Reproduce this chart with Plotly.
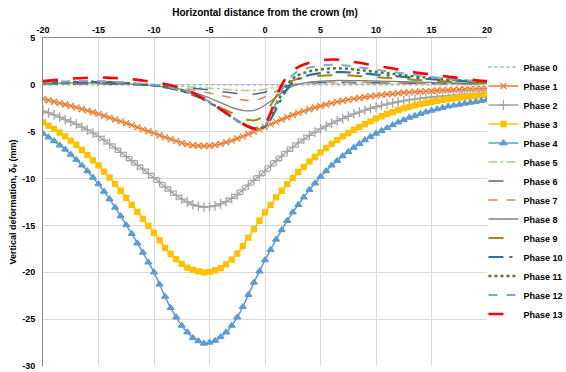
import numpy as np
import plotly.graph_objects as go

# x positions (m) for phases 1-4 (every 0.5 m)
x1 = list(np.arange(-20, 20.5, 0.5))
# x positions (m) for phases 0, 5-13
x2 = [-20, -19, -18, -17, -16, -15, -14, -13, -12, -11, -10, -9, -8, -7, -6, -5, -4, -3,
      -2.5, -2, -1.5, -1, -0.5, 0, 0.5, 1, 1.5, 2, 2.5,
      3, 4, 5, 6, 7, 8, 9, 10, 11, 12, 13, 14, 15, 16, 17, 18, 19, 20]

phase1 = [-1.5, -1.65, -1.8, -1.95, -2.1, -2.25, -2.4, -2.57, -2.75, -2.92, -3.1, -3.3, -3.5, -3.7, -3.9,
          -4.1, -4.3, -4.52, -4.75, -4.95, -5.15, -5.38, -5.6, -5.8, -6.0, -6.2, -6.35, -6.45, -6.5, -6.52,
          -6.5, -6.42, -6.3, -6.13, -5.95, -5.73, -5.5, -5.25, -5.0, -4.75, -4.5, -4.22, -3.95, -3.7, -3.45,
          -3.22, -3.0, -2.8, -2.6, -2.42, -2.25, -2.1, -1.95, -1.82, -1.7, -1.6, -1.5, -1.4, -1.3, -1.22,
          -1.15, -1.07, -1.0, -0.95, -0.9, -0.85, -0.8, -0.75, -0.7, -0.67, -0.65, -0.61, -0.58, -0.55, -0.52,
          -0.5, -0.47, -0.45, -0.43, -0.41, -0.4]
phase2 = [-2.8, -3.0, -3.2, -3.45, -3.7, -3.95, -4.2, -4.5, -4.8, -5.15, -5.5, -5.9, -6.3, -6.75, -7.2,
          -7.65, -8.1, -8.55, -9.0, -9.45, -9.9, -10.4, -10.9, -11.35, -11.8, -12.2, -12.5, -12.8, -12.95, -13.05,
          -13.0, -12.9, -12.7, -12.45, -12.1, -11.7, -11.2, -10.7, -10.2, -9.7, -9.2, -8.65, -8.1, -7.6, -7.1,
          -6.65, -6.2, -5.8, -5.4, -5.05, -4.7, -4.4, -4.1, -3.85, -3.6, -3.35, -3.1, -2.9, -2.7, -2.5,
          -2.35, -2.2, -2.05, -1.92, -1.8, -1.7, -1.6, -1.52, -1.45, -1.37, -1.3, -1.25, -1.2, -1.15, -1.1,
          -1.05, -1.0, -0.98, -0.95, -0.92, -0.9]
phase3 = [-4.0, -4.35, -4.7, -5.1, -5.5, -5.95, -6.4, -6.95, -7.5, -8.05, -8.6, -9.25, -9.9, -10.6, -11.3,
          -12.05, -12.8, -13.55, -14.3, -15.05, -15.8, -16.6, -17.4, -18.05, -18.6, -19.1, -19.5, -19.75, -19.9, -20.0,
          -19.95, -19.8, -19.55, -19.15, -18.65, -18.0, -17.2, -16.3, -15.4, -14.5, -13.6, -12.8, -12.0, -11.3, -10.6,
          -9.95, -9.3, -8.75, -8.2, -7.7, -7.2, -6.75, -6.3, -5.9, -5.5, -5.15, -4.8, -4.5, -4.2, -3.9,
          -3.6, -3.35, -3.1, -2.9, -2.7, -2.5, -2.35, -2.2, -2.05, -1.92, -1.8, -1.7, -1.6, -1.52, -1.45,
          -1.37, -1.3, -1.22, -1.15, -1.1, -1.05]
phase4 = [-5.2, -5.6, -6.0, -6.45, -6.9, -7.45, -8.0, -8.6, -9.2, -9.9, -10.6, -11.4, -12.2, -13.1, -14.0,
          -14.95, -15.9, -16.9, -17.9, -18.95, -20.0, -21.3, -22.6, -23.8, -24.8, -25.7, -26.4, -27.0, -27.35, -27.6,
          -27.5, -27.3, -26.9, -26.4, -25.7, -24.8, -23.7, -22.4, -21.1, -19.9, -18.7, -17.6, -16.5, -15.5, -14.5,
          -13.6, -12.8, -12.0, -11.2, -10.5, -9.8, -9.2, -8.6, -8.1, -7.6, -7.15, -6.7, -6.3, -5.9, -5.55,
          -5.2, -4.9, -4.6, -4.3, -4.0, -3.75, -3.5, -3.3, -3.1, -2.9, -2.75, -2.6, -2.45, -2.3, -2.2,
          -2.1, -2.0, -1.9, -1.8, -1.7, -1.6]

phase0 = [0.0] * len(x2)
phase5 = [0.05, 0.05, 0.06, 0.06, 0.06, 0.06, 0.05, 0.03, 0.01, -0.02, -0.05, -0.09, -0.14, -0.2, -0.27, -0.35, -0.43, -0.52,
          -0.56, -0.59, -0.6, -0.59, -0.55, -0.47, -0.37, -0.25, -0.14, -0.05, 0.02,
          0.07, 0.12, 0.14, 0.15, 0.15, 0.14, 0.13, 0.12, 0.11, 0.1, 0.09, 0.08, 0.07, 0.07, 0.06, 0.06, 0.05, 0.05]
phase6 = [0.1, 0.1, 0.1, 0.1, 0.1, 0.1, 0.08, 0.05, 0.02, -0.02, -0.07, -0.13, -0.2, -0.3, -0.42, -0.55, -0.7, -0.85,
          -0.92, -0.97, -1.0, -0.98, -0.9, -0.78, -0.6, -0.42, -0.25, -0.1, 0.02,
          0.1, 0.2, 0.25, 0.27, 0.27, 0.26, 0.25, 0.23, 0.21, 0.19, 0.17, 0.16, 0.14, 0.13, 0.12, 0.11, 0.1, 0.1]
phase7 = [0.1, 0.1, 0.12, 0.12, 0.12, 0.12, 0.1, 0.07, 0.03, -0.02, -0.1, -0.18, -0.3, -0.45, -0.65, -0.88, -1.12, -1.38,
          -1.52, -1.62, -1.68, -1.65, -1.52, -1.28, -1.0, -0.7, -0.42, -0.18, 0.0,
          0.1, 0.22, 0.28, 0.3, 0.3, 0.29, 0.27, 0.25, 0.23, 0.21, 0.19, 0.17, 0.15, 0.14, 0.13, 0.12, 0.11, 0.1]
phase8 = [0.15, 0.17, 0.2, 0.2, 0.2, 0.2, 0.18, 0.14, 0.08, 0.0, -0.1, -0.22, -0.38, -0.62, -0.95, -1.4, -1.9, -2.4,
          -2.6, -2.72, -2.78, -2.72, -2.5, -2.15, -1.75, -1.3, -0.85, -0.45, -0.15,
          0.05, 0.28, 0.4, 0.45, 0.47, 0.46, 0.44, 0.41, 0.38, 0.35, 0.32, 0.29, 0.26, 0.23, 0.2, 0.18, 0.16, 0.15]
phase9 = [0.2, 0.22, 0.25, 0.27, 0.28, 0.27, 0.25, 0.2, 0.12, 0.02, -0.1, -0.27, -0.5, -0.85, -1.3, -1.85, -2.45, -3.0,
          -3.35, -3.6, -3.75, -3.8, -3.6, -3.05, -2.2, -1.25, -0.45, 0.1, 0.45,
          0.65, 0.85, 0.97, 1.03, 1.03, 0.98, 0.9, 0.82, 0.74, 0.66, 0.58, 0.5, 0.44, 0.38, 0.33, 0.29, 0.25, 0.22]
phase10 = [0.2, 0.23, 0.27, 0.3, 0.3, 0.3, 0.27, 0.22, 0.13, 0.03, -0.08, -0.25, -0.5, -0.85, -1.3, -1.9, -2.65, -3.45,
           -3.85, -4.2, -4.5, -4.65, -4.68, -4.45, -3.7, -2.6, -1.45, -0.45, 0.25,
           0.65, 1.05, 1.25, 1.35, 1.35, 1.3, 1.2, 1.1, 1.0, 0.9, 0.8, 0.7, 0.6, 0.52, 0.45, 0.4, 0.35, 0.3]
phase11 = [0.2, 0.25, 0.3, 0.32, 0.33, 0.33, 0.3, 0.25, 0.15, 0.05, -0.05, -0.2, -0.45, -0.8, -1.25, -1.85, -2.6, -3.4,
           -3.8, -4.15, -4.45, -4.62, -4.65, -4.35, -3.45, -2.2, -1.0, 0.0, 0.65,
           1.05, 1.45, 1.65, 1.75, 1.75, 1.65, 1.52, 1.38, 1.25, 1.1, 0.97, 0.85, 0.72, 0.62, 0.52, 0.45, 0.38, 0.3]
phase12 = [0.25, 0.3, 0.35, 0.4, 0.4, 0.4, 0.35, 0.3, 0.2, 0.1, 0.0, -0.15, -0.4, -0.75, -1.2, -1.8, -2.55, -3.35,
           -3.75, -4.1, -4.4, -4.6, -4.65, -4.3, -3.3, -1.9, -0.6, 0.4, 1.05,
           1.45, 1.85, 2.05, 2.15, 2.1, 1.95, 1.8, 1.62, 1.45, 1.3, 1.15, 1.0, 0.85, 0.72, 0.6, 0.5, 0.4, 0.32]
phase13 = [0.4, 0.5, 0.6, 0.7, 0.75, 0.8, 0.75, 0.7, 0.6, 0.45, 0.3, 0.1, -0.2, -0.6, -1.15, -1.8, -2.6, -3.4,
           -3.8, -4.15, -4.45, -4.65, -4.7, -4.2, -3.0, -1.4, 0.0, 0.9, 1.5,
           1.9, 2.35, 2.6, 2.7, 2.65, 2.45, 2.25, 2.05, 1.85, 1.65, 1.45, 1.25, 1.1, 0.95, 0.8, 0.65, 0.5, 0.4]

x_ticks = [-20, -15, -10, -5, 0, 5, 10, 15, 20]
y_ticks = [5, 0, -5, -10, -15, -20, -25, -30]

FONT = "Liberation Sans, Arial, sans-serif"

fig = go.Figure()

fig.add_trace(go.Scatter(x=x2, y=phase0, name="Phase 0", mode="lines",
                         line=dict(color="#8FAADC", width=1.3, dash="dot")))

marker_series = [
    ("Phase 1", phase1, "#ED7D31", "x-thin", 6),
    ("Phase 2", phase2, "#A5A5A5", "cross-thin", 7),
    ("Phase 3", phase3, "#FFC000", "square", 5),
    ("Phase 4", phase4, "#5B9BD5", "triangle-up", 6),
]
for name, ys, col, sym, sz in marker_series:
    fig.add_trace(go.Scatter(
        x=x1, y=ys, name=name, mode="lines+markers", line_shape="spline",
        line=dict(color=col, width=1.5),
        marker=dict(symbol=sym, size=sz, color=col, line=dict(color=col, width=1.3))))

line_series = [
    ("Phase 5", phase5, "#A9D18E", "dashdot", 1.5),
    ("Phase 6", phase6, "#4A6496", "longdash", 1.5),
    ("Phase 7", phase7, "#C98B63", "dash", 1.5),
    ("Phase 8", phase8, "#7F7F7F", "solid", 1.3),
    ("Phase 9", phase9, "#A8850F", "longdash", 2),
    ("Phase 10", phase10, "#2F6DA8", "longdashdot", 2.2),
    ("Phase 11", phase11, "#4E7A2C", "dot", 2.5),
    ("Phase 12", phase12, "#7EA6DA", "dash", 2),
    ("Phase 13", phase13, "#FF0000", "longdash", 2.6),
]
for name, ys, col, dash, w in line_series:
    fig.add_trace(go.Scatter(x=x2, y=ys, name=name, mode="lines", line_shape="spline",
                             line=dict(color=col, width=w, dash=dash)))

fig.update_layout(
    width=566, height=372,
    margin=dict(l=43, r=79, t=38, b=6, autoexpand=False),
    paper_bgcolor="white", plot_bgcolor="white",
    font=dict(family=FONT, size=9, color="#000000"),
    showlegend=True,
    legend=dict(x=0.992, xanchor="left", y=0.535, yanchor="middle",
                font=dict(family=FONT, size=9, color="#000000", weight="bold"),
                bgcolor="rgba(0,0,0,0)", borderwidth=0, tracegroupgap=0),
    xaxis=dict(
        side="top", range=[-20, 20], tickvals=x_ticks, ticktext=[str(v) for v in x_ticks],
        showgrid=True, gridcolor="#D9D9D9", gridwidth=1, zeroline=False,
        showline=True, linecolor="#8C8C8C", linewidth=1, ticks="",
        tickfont=dict(family=FONT, size=9, color="#000000", weight="bold"),
        title=dict(text="Horizontal distance from the crown (m)", standoff=6,
                   font=dict(family=FONT, size=10, color="#000000", weight="bold")),
        automargin=False,
    ),
    yaxis=dict(
        range=[-30, 5], tickvals=y_ticks, ticktext=[str(v) for v in y_ticks],
        showgrid=True, gridcolor="#D9D9D9", gridwidth=1, zeroline=False,
        showline=True, linecolor="#8C8C8C", linewidth=1, ticks="",
        ticklabelstandoff=5,
        tickfont=dict(family=FONT, size=9, color="#000000", weight="bold"),
        title=dict(text="Vertical deformation, δ<sub>v</sub> (mm)", standoff=4,
                   font=dict(family=FONT, size=9, color="#000000", weight="bold")),
        automargin=False,
    ),
)

fig.write_html("out.html")
